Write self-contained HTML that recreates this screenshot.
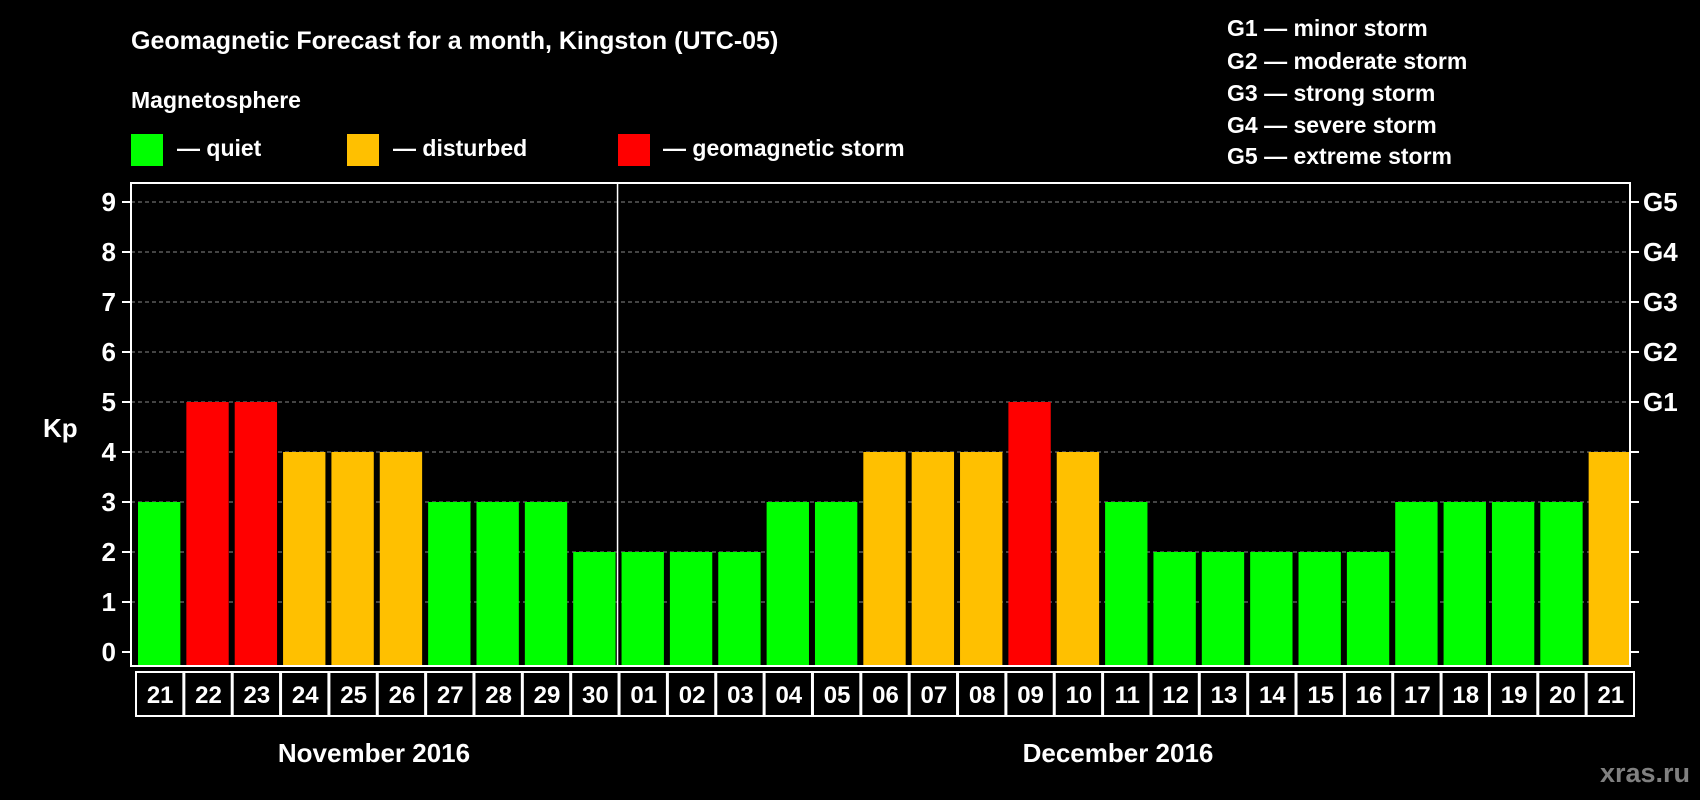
<!DOCTYPE html>
<html><head><meta charset="utf-8"><style>
html,body{margin:0;padding:0;background:#000;width:1700px;height:800px;overflow:hidden}
svg{display:block;font-family:"Liberation Sans",Arial,sans-serif;font-weight:bold}
</style></head><body>
<svg id="c" width="1700" height="800" viewBox="0 0 1700 800">
<rect width="1700" height="800" fill="#000"/>
<text x="131" y="49" fill="#fff" font-size="25">Geomagnetic Forecast for a month, Kingston (UTC-05)</text>
<text x="131" y="108" fill="#fff" font-size="23">Magnetosphere</text>
<g>
<rect x="131" y="134" width="32" height="32" fill="#00ff00"/>
<text x="177" y="156" fill="#fff" font-size="23">— quiet</text>
<rect x="347" y="134" width="32" height="32" fill="#ffc000"/>
<text x="393" y="156" fill="#fff" font-size="23">— disturbed</text>
<rect x="618" y="134" width="32" height="32" fill="#ff0000"/>
<text x="663" y="156" fill="#fff" font-size="23">— geomagnetic storm</text>
</g>
<g fill="#fff" font-size="23">
<text x="1227" y="36">G1 — minor storm</text>
<text x="1227" y="69">G2 — moderate storm</text>
<text x="1227" y="101">G3 — strong storm</text>
<text x="1227" y="133">G4 — severe storm</text>
<text x="1227" y="164">G5 — extreme storm</text>
</g>
<text x="43" y="437" fill="#fff" font-size="26">Kp</text>
<text x="374" y="762" fill="#fff" font-size="26" text-anchor="middle">November 2016</text>
<text x="1118" y="762" fill="#fff" font-size="26" text-anchor="middle">December 2016</text>
<text x="1690" y="782" fill="#808080" font-size="27" text-anchor="end">xras.ru</text>
<g id="plot"></g>
</svg>
<script>
const days = ["21","22","23","24","25","26","27","28","29","30","01","02","03","04","05","06","07","08","09","10","11","12","13","14","15","16","17","18","19","20","21"];
const kp = [3,5,5,4,4,4,3,3,3,2,2,2,2,3,3,4,4,4,5,4,3,2,2,2,2,2,3,3,3,3,4];
const yTicks = [0,1,2,3,4,5,6,7,8,9];
const gLabels = ["","","","","","G1","G2","G3","G4","G5"];
const NS = "http://www.w3.org/2000/svg";
const L = 131, R = 1630, T = 183, B = 666;
const y = v => 652 - v * 50;
const slot = (R - L) / days.length;
const x = i => L + i * slot;
const g = document.getElementById('plot');
function mk(tag, attrs, parent) {
  const e = document.createElementNS(NS, tag);
  for (const k in attrs) e.setAttribute(k, attrs[k]);
  (parent || g).appendChild(e);
  return e;
}
function color(v) { return v >= 5 ? "#ff0000" : v >= 4 ? "#ffc000" : "#00ff00"; }
yTicks.forEach((t, i) => {
  if (t > 0) {
    const gl = mk('line', {x1: L, x2: R, y1: y(t), y2: y(t), stroke: "#888", "stroke-dasharray": "4,3", "stroke-width": 1});
    
    
  }
  const tl = mk('line', {x1: L - 9, x2: L, y1: y(t), y2: y(t), stroke: "#fff", "stroke-width": 2});
  
  
  const tr = mk('line', {x1: R, x2: R + 9, y1: y(t), y2: y(t), stroke: "#fff", "stroke-width": 2});
  
  
  const lab = mk('text', {x: 116, y: y(t) + 9, fill: "#fff", "font-size": 26, "text-anchor": "end"});
  lab.textContent = t;
  
  
  if (gLabels[i]) {
    const gt = mk('text', {x: 1643, y: y(t) + 9, fill: "#fff", "font-size": 26});
    gt.textContent = gLabels[i];
    
    
  }
});
kp.forEach((v, i) => {
  const b = mk('rect', {x: x(i) + 7, y: y(v), width: slot - 6, height: y(0) - y(v) + 14, fill: color(v)});
  
  
  const c = mk('rect', {x: x(i) + 5, y: 672, width: slot - 1, height: 44, fill: "none", stroke: "#fff", "stroke-width": 2});
  
  
  const t = mk('text', {x: x(i) + 5 + slot / 2, y: 703, fill: "#fff", "font-size": 24, "text-anchor": "middle"});
  t.textContent = days[i];
  
  
});
const f = mk('rect', {x: L, y: T, width: R - L, height: B - T, fill: "none", stroke: "#fff", "stroke-width": 2});


const d = mk('line', {x1: x(10) + 3, x2: x(10) + 3, y1: T, y2: B, stroke: "#fff", "stroke-width": 1.5});


</script>
</body></html>
